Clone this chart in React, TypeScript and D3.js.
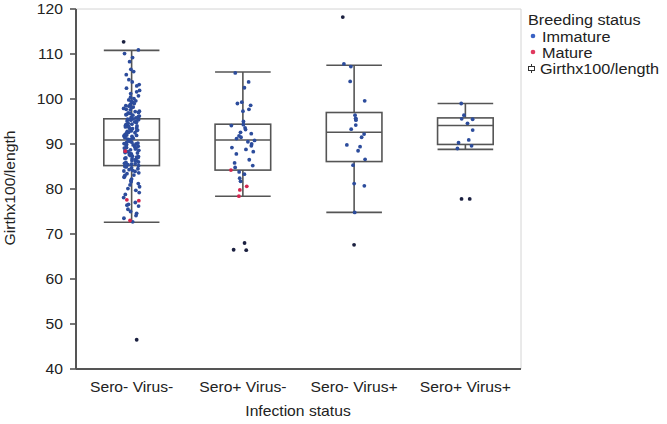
import React from "react";
import * as d3 from "d3";

const categories = ["Sero- Virus-", "Sero+ Virus-", "Sero- Virus+", "Sero+ Virus+"];
const yTicks = [40, 50, 60, 70, 80, 90, 100, 110, 120];

// box statistics per category
const whiskerLow = [72.6, 78.4, 74.8, 88.8];
const q1 = [85.2, 84.2, 86.1, 89.9];
const median = [90.9, 90.9, 92.6, 94.1];
const q3 = [95.6, 94.4, 97.0, 95.8];
const whiskerHigh = [110.8, 106.0, 107.5, 99.0];

// immature (blue) observations per category
const immature1 = [
  112.7, 110.9, 110.1, 109.2, 108.3, 106.6, 106.1, 105.4, 104.3, 103.8, 103.2, 102.9, 102.4, 101.9,
  101.6, 101.2, 100.7, 100.4, 100.1, 99.8, 99.6, 99.3, 99.0, 98.8, 98.5, 98.4, 98.1, 97.9, 97.7,
  97.6, 97.3, 97.2, 96.9, 96.8, 96.6, 96.4, 96.2, 96.1, 95.9, 95.8, 95.6, 95.4, 95.3, 95.1, 94.9,
  94.8, 94.6, 94.4, 94.3, 94.1, 93.9, 93.8, 93.6, 93.4, 93.3, 93.1, 92.9, 92.8, 92.6, 92.4, 92.3,
  92.1, 91.9, 91.8, 91.6, 91.4, 91.3, 91.1, 90.9, 90.8, 90.6, 90.4, 90.3, 90.1, 89.9, 89.8, 89.6,
  89.4, 89.2, 89.1, 88.9, 88.7, 88.5, 88.3, 88.1, 87.9, 87.8, 87.6, 87.4, 87.2, 87.1, 86.9, 86.7,
  86.5, 86.4, 86.2, 86.0, 85.9, 85.7, 85.5, 85.4, 85.2, 85.0, 84.9, 84.7, 84.5, 84.3, 84.1, 83.9,
  83.6, 83.4, 83.1, 82.8, 82.6, 82.2, 81.9, 81.6, 81.2, 80.9, 80.5, 80.1, 79.7, 79.2, 78.8, 78.1,
  77.0, 76.6, 76.4, 76.2, 75.5, 75.0, 74.6, 74.1, 73.5, 72.7, 46.5,
  96.5, 95.0, 93.0, 92.0, 91.0, 90.0, 89.0, 88.0, 86.8, 85.6, 94.0, 97.0, 98.2, 99.5, 87.0, 84.0,
  83.0, 92.5, 91.7, 90.2, 88.6, 86.3, 95.5, 93.7, 89.5, 87.3,
];
const immature2 = [
  105.8, 103.8, 102.5, 99.3, 99.0, 98.6, 97.7, 97.3, 95.0, 94.3, 94.1, 93.6, 93.2, 92.6, 92.3,
  91.8, 91.5, 91.2, 90.8, 90.5, 90.0, 89.6, 89.2, 88.8, 88.3, 87.8, 86.5, 85.8, 85.2, 84.8, 83.8,
  83.3, 82.4, 81.7, 68.0, 66.5, 66.4,
];
const immature3 = [
  118.2, 107.8, 107.2, 103.9, 99.6, 96.4, 95.7, 95.6, 95.3, 94.2, 93.3, 92.2, 91.5, 89.8, 89.4,
  88.5, 86.6, 85.3, 80.7, 81.2, 74.8, 67.6,
];
const immature4 = [99.0, 96.4, 95.6, 95.5, 94.6, 93.1, 90.9, 90.3, 89.6, 89.0, 77.8, 77.8];
const immatureByGroup = [immature1, immature2, immature3, immature4];

// mature (red) observations per category
const mature1 = [88.4, 77.6, 77.4, 73.0];
const mature2 = [84.2, 80.6, 79.8, 78.4];
const mature3: number[] = [];
const mature4: number[] = [];
const matureByGroup = [mature1, mature2, mature3, mature4];

const legendItems = ["Immature", "Mature"];

const W = 667;
const H = 424;
const M = { left: 76, right: 521, top: 9, bottom: 369 };
const FONT = "'Liberation Sans', Arial, Helvetica, sans-serif";
const BLUE = "#2c4c9c";
const RED = "#d3264e";
const DARK = "#1b2040";
const AXIS = "#555";
const SX = 1.12;
const SPREAD = [8, 12, 12, 9];

function jitter(i: number, g: number, s: number) {
  const v = Math.sin(i * 12.9898 + g * 78.233 + s * 3.17) * 43758.5453;
  return (v - Math.floor(v)) * 2 - 1;
}

function T({ x, y, anchor = "start", size = 14, rotate = 0, children }: any) {
  return (
    <text
      transform={`translate(${x},${y}) rotate(${rotate}) scale(${SX},1)`}
      textAnchor={anchor}
      fontFamily={FONT}
      fontSize={size}
      fill="#222"
    >
      {children}
    </text>
  );
}

export default function App() {
  const x = d3.scaleBand<string>().domain(categories).range([M.left, M.right]);
  const y = d3.scaleLinear().domain([40, 120]).range([M.bottom, M.top]);
  const bw = x.bandwidth() * 0.5;

  return (
    <svg width={W} height={H} style={{ position: "absolute", left: 0, top: 0, background: "#fff" }}>
      {/* frame */}
      <line x1={M.left} x2={M.right} y1={M.top} y2={M.top} stroke="#d4d4d4" strokeWidth={1} />
      <line x1={M.right} x2={M.right} y1={M.top} y2={M.bottom} stroke="#d4d4d4" strokeWidth={1} />
      {/* boxes */}
      {categories.map((c, i) => {
        const cx = (x(c) as number) + x.bandwidth() / 2;
        const l = cx - bw / 2;
        const r = cx + bw / 2;
        return (
          <g key={c} stroke={AXIS} strokeWidth={1.6} fill="none">
            <line x1={cx} x2={cx} y1={y(whiskerHigh[i])} y2={y(q3[i])} />
            <line x1={cx} x2={cx} y1={y(q1[i])} y2={y(whiskerLow[i])} />
            <line x1={l} x2={r} y1={y(whiskerHigh[i])} y2={y(whiskerHigh[i])} />
            <line x1={l} x2={r} y1={y(whiskerLow[i])} y2={y(whiskerLow[i])} />
            <rect x={l} y={y(q3[i])} width={bw} height={y(q1[i]) - y(q3[i])} />
            <line x1={l} x2={r} y1={y(median[i])} y2={y(median[i])} />
          </g>
        );
      })}
      {/* points */}
      {categories.map((c, g) => {
        const cx = (x(c) as number) + x.bandwidth() / 2;
        const spread = SPREAD[g];
        return (
          <g key={"p" + c}>
            {immatureByGroup[g].map((v, i) => {
              const out = v < whiskerLow[g] - 1.5 || v > whiskerHigh[g] + 0.5;
              return (
                <circle
                  key={i}
                  cx={cx + jitter(i, g, 0) * spread}
                  cy={y(v)}
                  r={1.9}
                  fill={out ? DARK : BLUE}
                />
              );
            })}
            {matureByGroup[g].map((v, i) => (
              <circle key={"m" + i} cx={cx + jitter(i, g, 1) * spread} cy={y(v)} r={1.9} fill={RED} />
            ))}
          </g>
        );
      })}
      {/* axes */}
      <line x1={M.left} x2={M.left} y1={M.top} y2={M.bottom} stroke={AXIS} strokeWidth={2} />
      <line x1={M.left} x2={M.right} y1={M.bottom} y2={M.bottom} stroke={AXIS} strokeWidth={2} />
      {yTicks.map((t) => (
        <g key={t}>
          <line x1={M.left - 6} x2={M.left} y1={y(t)} y2={y(t)} stroke={AXIS} strokeWidth={1.6} />
          <T x={63} y={y(t) + 5} anchor="end">{t}</T>
        </g>
      ))}
      {categories.map((c) => (
        <T key={"xl" + c} x={(x(c) as number) + x.bandwidth() / 2} y={392} anchor="middle">
          {c}
        </T>
      ))}
      <T x={298} y={416} anchor="middle">Infection status</T>
      <T x={15} y={188} anchor="middle" rotate={-90}>Girthx100/length</T>
      {/* legend */}
      <T x={528} y={25} size={14.5}>Breeding status</T>
      {legendItems.map((name, i) => (
        <g key={name}>
          <circle cx={533} cy={36 + i * 16} r={2.3} fill={i === 0 ? "#3a62c4" : "#e0385e"} />
          <T x={542} y={41.5 + i * 16} size={14.5}>{name}</T>
        </g>
      ))}
      <g stroke="#333" strokeWidth={1} fill="none">
        <rect x={528.5} y={66.5} width={6} height={4} />
        <line x1={531.5} x2={531.5} y1={64} y2={66.5} />
        <line x1={531.5} x2={531.5} y1={70.5} y2={73} />
      </g>
      <T x={540} y={74} size={14.5}>Girthx100/length</T>
    </svg>
  );
}
